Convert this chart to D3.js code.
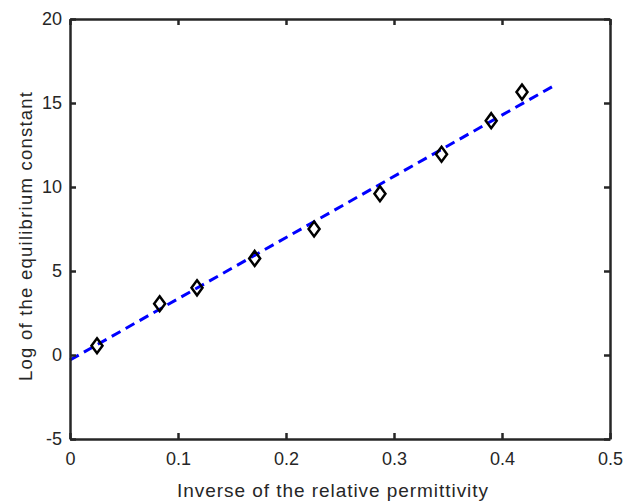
<!DOCTYPE html>
<html>
<head>
<meta charset="utf-8">
<script src="https://cdn.jsdelivr.net/npm/d3@7"></script>
<style>
  body { margin: 0; background: #fff; }
  text { font-family: "Liberation Sans", Arial, sans-serif; fill: #262626; }
</style>
</head>
<body>
<script>
// measured points
var invPerm = [0.025, 0.083, 0.1176, 0.171, 0.226, 0.287, 0.344, 0.390, 0.4185];
var logK = [0.55, 3.05, 4.0, 5.75, 7.5, 9.6, 11.95, 13.95, 15.65];
// fitted line endpoints
var fitX = [0, 0.45];
var fitY = [-0.3, 16.1];
var xTicks = [0, 0.1, 0.2, 0.3, 0.4, 0.5];
var yTicks = [-5, 0, 5, 10, 15, 20];

var W = 624, H = 502;
var mLeft = 70, mRight = 610, mTop = 19, mBottom = 439;

var svg = d3.select("body").append("svg")
    .attr("width", W)
    .attr("height", H);

var x = d3.scaleLinear().domain([0, 0.5]).range([mLeft, mRight]);
var y = d3.scaleLinear().domain([-5, 20]).range([mBottom, mTop]);

// fit line
svg.append("line")
    .attr("x1", x(fitX[0])).attr("y1", y(fitY[0]))
    .attr("x2", x(fitX[1])).attr("y2", y(fitY[1]))
    .attr("stroke", "#0000ff")
    .attr("stroke-width", 3)
    .attr("stroke-dasharray", "10,6");

// diamonds
svg.selectAll("path.pt")
    .data(invPerm)
    .enter().append("path")
    .attr("class", "pt")
    .attr("d", function(d, i) {
        var cx = x(d), cy = y(logK[i]);
        return "M" + cx + "," + (cy - 7.5) + "L" + (cx + 5.5) + "," + cy +
               "L" + cx + "," + (cy + 7.5) + "L" + (cx - 5.5) + "," + cy + "Z";
    })
    .attr("fill", "none")
    .attr("stroke", "#000")
    .attr("stroke-width", 2.5);

// axes box
var xAxis = d3.axisBottom(x).tickValues(xTicks).tickSizeInner(-6).tickSizeOuter(0).tickPadding(13)
    .tickFormat(function(d) { return d === 0 ? "0" : d3.format(".1f")(d); });
var yAxis = d3.axisLeft(y).tickValues(yTicks).tickSizeInner(-6).tickSizeOuter(0).tickPadding(8)
    .tickFormat(function(d) { return String(d); });

var gx = svg.append("g").attr("transform", "translate(0," + mBottom + ")").call(xAxis);
var gy = svg.append("g").attr("transform", "translate(" + mLeft + ",0)").call(yAxis);
var gy2 = svg.append("g").attr("transform", "translate(" + mRight + ",0)")
    .call(d3.axisRight(y).tickValues(yTicks).tickSizeInner(-6).tickSizeOuter(0).tickFormat(""));
var gx2 = svg.append("g").attr("transform", "translate(0," + mTop + ")")
    .call(d3.axisTop(x).tickValues(xTicks).tickSizeInner(-6).tickSizeOuter(0).tickFormat(""));

[gx, gy, gx2, gy2].forEach(function(g) {
    g.select(".domain").attr("stroke", "#262626").attr("stroke-width", 2.5);
    g.selectAll(".tick line").attr("stroke", "#262626").attr("stroke-width", 2.5);
    g.selectAll(".tick text").attr("font-size", 18).attr("fill", "#262626")
        .attr("font-family", "Liberation Sans, Arial, sans-serif");
});

svg.append("text")
    .attr("x", 177)
    .attr("y", 497)
    .attr("font-size", 19)
    .attr("textLength", 311)
    .attr("lengthAdjust", "spacing")
    .text("Inverse of the relative permittivity");

svg.append("text")
    .attr("transform", "translate(32,381) rotate(-90)")
    .attr("font-size", 18.5)
    .attr("textLength", 289)
    .attr("lengthAdjust", "spacing")
    .text("Log of the equilibrium constant");
</script>
</body>
</html>
